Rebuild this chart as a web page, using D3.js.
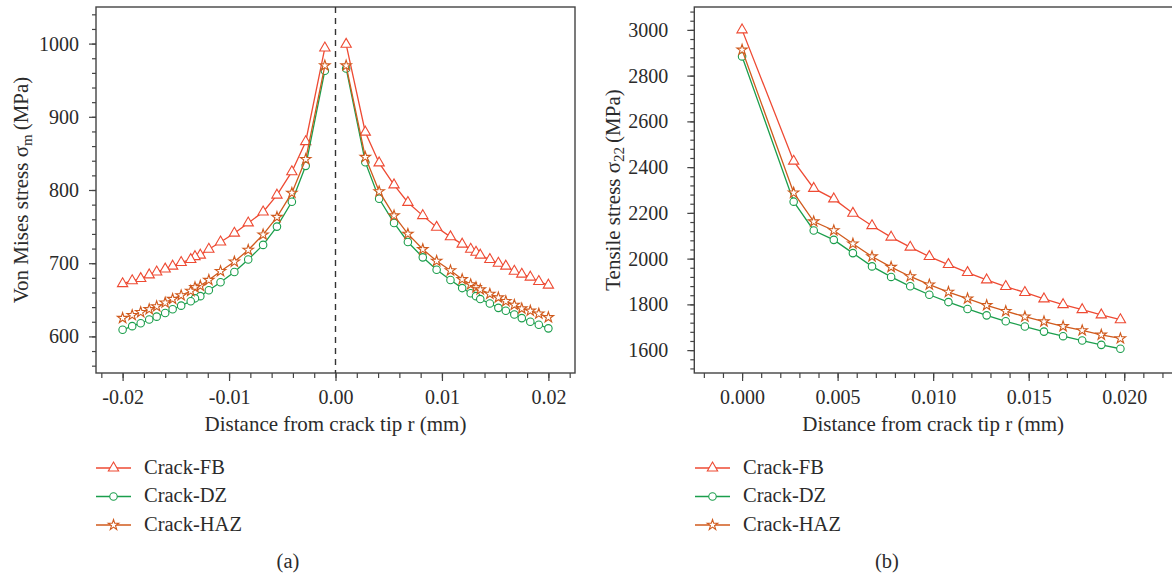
<!DOCTYPE html>
<html>
<head>
<meta charset="utf-8">
<script src="https://cdn.jsdelivr.net/npm/d3@7"></script>
<style>
  body { margin: 0; background: #fff; }
  svg { display: block; font-family: "Liberation Serif", "DejaVu Serif", serif; }
  svg text { font-family: "Liberation Serif", "DejaVu Serif", serif; }
</style>
</head>
<body>
<svg id="chart" width="1172" height="577"></svg>
<script>
// --- Data: (a) Von Mises stress, distance from crack tip (mm)
const tipDistance = [0.001, 0.0028, 0.0041, 0.0055, 0.0068, 0.0082, 0.0095, 0.0108, 0.0119, 0.0127,
    0.0132, 0.0136, 0.0145, 0.0153, 0.016, 0.0168, 0.0175, 0.0183, 0.0191, 0.02]

const misesFBLeft = [994, 866, 825, 793, 770, 755, 741, 729, 719, 711, 709, 705, 701, 696, 692, 688, 684, 679, 676, 672]
const misesFBRight = [999, 879, 837, 807, 783, 765, 749, 736, 726, 719, 715, 711, 705, 700, 696, 689, 685, 681, 675, 670]
const misesDZLeft = [963, 833, 784, 750, 725, 705, 688, 674, 663, 655, 652, 648, 642, 637, 632, 627, 623, 618, 614, 609]
const misesDZRight = [966, 838, 788, 755, 729, 708, 691, 677, 666, 659, 655, 651, 645, 639, 635, 630, 625, 620, 616, 611]
const misesHAZLeft = [970, 842, 796, 763, 739, 718, 702, 689, 677, 669, 667, 662, 656, 651, 646, 641, 637, 633, 629, 625]
const misesHAZRight = [970, 845, 798, 765, 740, 719, 703, 690, 678, 671, 667, 664, 658, 653, 648, 643, 638, 635, 631, 626]

// --- Data: (b) tensile stress sigma22
const tensileDistance = [0, 0.0027, 0.00375, 0.0048, 0.0058, 0.0068, 0.0078, 0.0088, 0.0098, 0.0108,
    0.0118, 0.0128, 0.0138, 0.0148, 0.0158, 0.0168, 0.0178, 0.0188, 0.0198]
const tensileFB = [3000, 2426, 2307, 2261, 2198, 2144, 2094, 2050, 2009, 1974, 1939, 1907, 1878, 1852, 1824, 1799, 1777, 1754, 1733]
const tensileDZ = [2884, 2249, 2123, 2082, 2024, 1966, 1920, 1879, 1842, 1810, 1780, 1752, 1726, 1703, 1681, 1661, 1642, 1623, 1606]
const tensileHAZ = [2913, 2288, 2162, 2123, 2065, 2009, 1963, 1922, 1886, 1854, 1825, 1796, 1770, 1746, 1725, 1704, 1686, 1667, 1651]

// --- Ticks
const misesXTicks = [-0.02, -0.01, 0, 0.01, 0.02]
const misesXLabels = ["-0.02", "-0.01", "0.00", "0.01", "0.02"]
const misesYTicks = [600, 700, 800, 900, 1000]
const tensileXTicks = [0, 0.005, 0.01, 0.015, 0.02]
const tensileXLabels = ["0.000", "0.005", "0.010", "0.015", "0.020"]
const tensileYTicks = [1600, 1800, 2000, 2200, 2400, 2600, 2800, 3000]

const seriesNames = ["Crack-FB", "Crack-DZ", "Crack-HAZ"]
const seriesColors = ["#ee4a33", "#1b9e4c", "#d05a1d"]
const seriesSymbols = [d3.symbolTriangle, d3.symbolCircle, d3.symbolStar]
const symbolSizes = [46, 44, 34]

const svg = d3.select("#chart")
const ink = "#2b2b2b"
const serif = "'Liberation Serif', 'DejaVu Serif', serif"
const tickFont = 20
const labelFont = 21

function minorRange(lo, hi, step) {
    // evenly spaced minor tick positions, built from integer steps to avoid float drift
    const n = Math.round((hi - lo) / step)
    return Array.from({ length: n + 1 }, (_, i) => +(lo + i * step).toFixed(6))
}

function drawPanel(cfg) {
    const g = svg.append("g")
    const x = d3.scaleLinear().domain(cfg.xDomain).range([cfg.left, cfg.right])
    const y = d3.scaleLinear().domain(cfg.yDomain).range([cfg.bottom, cfg.top])

    // frame
    g.append("rect")
        .attr("x", cfg.left).attr("y", cfg.top)
        .attr("width", cfg.frameRight - cfg.left).attr("height", cfg.bottom - cfg.top)
        .attr("fill", "none").attr("stroke", "#444").attr("stroke-width", 1.4)

    // minor ticks
    g.append("g").attr("transform", `translate(0,${cfg.bottom})`)
        .call(d3.axisBottom(x).tickValues(cfg.xMinor).tickSize(5).tickFormat(""))
        .call(a => a.select(".domain").remove())
    g.append("g").attr("transform", `translate(${cfg.left},0)`)
        .call(d3.axisLeft(y).tickValues(cfg.yMinor).tickSize(4).tickFormat(""))
        .call(a => a.select(".domain").remove())

    // major ticks + labels
    const xAxis = g.append("g").attr("transform", `translate(0,${cfg.bottom})`)
        .call(d3.axisBottom(x).tickValues(cfg.xTicks).tickSize(8).tickPadding(9)
            .tickFormat((d, i) => cfg.xLabels[i]))
    const yAxis = g.append("g").attr("transform", `translate(${cfg.left},0)`)
        .call(d3.axisLeft(y).tickValues(cfg.yTicks).tickSize(7).tickPadding(cfg.yPad)
            .tickFormat(d3.format("d")))
    for (const a of [xAxis, yAxis]) {
        a.attr("font-family", serif).attr("font-size", tickFont)
        a.select(".domain").remove()
        a.selectAll("text").attr("fill", ink).style("font-family", serif)
    }
    g.selectAll(".tick line").attr("stroke", "#444").attr("stroke-width", 1.2)

    // zero line (panel a)
    if (cfg.zeroLine) {
        g.append("line")
            .attr("x1", x(0)).attr("x2", x(0))
            .attr("y1", cfg.top).attr("y2", cfg.bottom)
            .attr("stroke", "#333").attr("stroke-width", 1.4)
            .attr("stroke-dasharray", "6,5")
    }

    // series
    const line = d3.line().x(d => x(d[0])).y(d => y(d[1]))
    cfg.series.forEach((s, k) => {
        s.parts.forEach(points => {
            g.append("path").datum(points)
                .attr("d", line).attr("fill", "none")
                .attr("stroke", seriesColors[k]).attr("stroke-width", 1.3)
        })
        const all = s.parts.flat()
        g.selectAll(null).data(all).join("path")
            .attr("transform", d => `translate(${x(d[0])},${y(d[1])})`)
            .attr("d", d3.symbol(seriesSymbols[k], symbolSizes[k]))
            .attr("fill", "#fff").attr("stroke", seriesColors[k]).attr("stroke-width", 1.1)
    })

    // x label
    g.append("text")
        .attr("x", (cfg.left + cfg.right) / 2).attr("y", 431)
        .attr("text-anchor", "middle").attr("font-size", labelFont).attr("fill", ink)
        .text("Distance from crack tip r (mm)")

    // y label with subscript
    const yl = g.append("text")
        .attr("transform", `translate(${cfg.yLabelX},${(cfg.top + cfg.bottom) / 2}) rotate(-90)`)
        .attr("text-anchor", "middle").attr("font-size", labelFont).attr("fill", ink)
    yl.append("tspan").text(cfg.yLabel[0])
    yl.append("tspan").attr("baseline-shift", "-28%").attr("font-size", 15).text(cfg.yLabel[1])
    yl.append("tspan").attr("dx", 4).text(cfg.yLabel[2])

    // legend
    const lg = g.append("g")
    seriesNames.forEach((name, k) => {
        const ly = 468 + k * 28.5
        lg.append("line")
            .attr("x1", cfg.legendX).attr("x2", cfg.legendX + 35)
            .attr("y1", ly).attr("y2", ly)
            .attr("stroke", seriesColors[k]).attr("stroke-width", 1.3)
        lg.append("path")
            .attr("transform", `translate(${cfg.legendX + 17.5},${ly})`)
            .attr("d", d3.symbol(seriesSymbols[k], symbolSizes[k]))
            .attr("fill", "#fff").attr("stroke", seriesColors[k]).attr("stroke-width", 1.1)
        lg.append("text")
            .attr("x", cfg.legendX + 48).attr("y", ly + 5.5)
            .attr("font-size", labelFont - 0.5).attr("fill", ink)
            .text(name)
    })

    // panel caption
    g.append("text")
        .attr("x", cfg.captionX).attr("y", 568)
        .attr("text-anchor", "middle").attr("font-size", labelFont - 0.5).attr("fill", ink)
        .text(cfg.caption)
}

const pair = (xs, ys, sign) => xs.map((d, i) => [sign * d, ys[i]])

drawPanel({
    left: 96, right: 575, frameRight: 575, top: 7, bottom: 373,
    xDomain: [-0.0225, 0.0225], yDomain: [550, 1050],
    xTicks: misesXTicks, xLabels: misesXLabels, yTicks: misesYTicks,
    xMinor: minorRange(-0.022, 0.022, 0.002), yMinor: minorRange(560, 1040, 20),
    yPad: 10, zeroLine: true,
    yLabelX: 28, yLabel: ["Von Mises stress σ", "m", "(MPa)"],
    legendX: 96, captionX: 288, caption: "(a)",
    series: [
        { parts: [pair(tipDistance, misesFBLeft, -1), pair(tipDistance, misesFBRight, 1)] },
        { parts: [pair(tipDistance, misesDZLeft, -1), pair(tipDistance, misesDZRight, 1)] },
        { parts: [pair(tipDistance, misesHAZLeft, -1), pair(tipDistance, misesHAZRight, 1)] }
    ]
})

drawPanel({
    left: 694.3, right: 1172, frameRight: 1175, top: 7, bottom: 373,
    xDomain: [-0.0025, 0.0225], yDomain: [1500, 3100],
    xTicks: tensileXTicks, xLabels: tensileXLabels, yTicks: tensileYTicks,
    xMinor: minorRange(-0.002, 0.022, 0.001), yMinor: minorRange(1520, 3080, 40),
    yPad: 19, zeroLine: false,
    yLabelX: 620, yLabel: ["Tensile stress σ", "22", "(MPa)"],
    legendX: 695, captionX: 887, caption: "(b)",
    series: [
        { parts: [pair(tensileDistance, tensileFB, 1)] },
        { parts: [pair(tensileDistance, tensileDZ, 1)] },
        { parts: [pair(tensileDistance, tensileHAZ, 1)] }
    ]
})
</script>
</body>
</html>
